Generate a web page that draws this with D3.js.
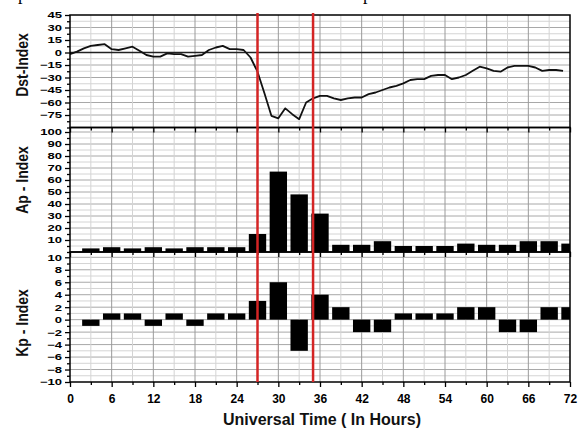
<!DOCTYPE html>
<html>
<head>
<meta charset="utf-8">
<script src="https://cdn.jsdelivr.net/npm/d3@7"></script>
<style>
  body { margin: 0; background: #fff; }
  svg { display: block; font-family: "Liberation Sans", Arial, sans-serif; }
</style>
</head>
<body>
<div id="wrapper"></div>
<script>
// hourly Dst, hour 0 .. 71
const dstValues = [-2, 1, 5, 8, 9, 10, 4, 3, 5, 7, 2, -3, -5, -5, -1, -2, -2, -5, -4, -3,
  3, 6, 8, 4, 4, 3, -6, -23, -49, -76, -79, -67, -74, -80, -60, -55, -52, -52, -55, -57,
  -55, -54, -54, -50, -48, -45, -42, -40, -37, -33, -32, -32, -28, -27, -27, -32, -30, -27,
  -22, -17, -19, -22, -23, -18, -16, -16, -16, -18, -22, -21, -21, -22];

// 3-hourly Ap and Kp
const barHours = [3, 6, 9, 12, 15, 18, 21, 24, 27, 30, 33, 36, 39, 42, 45, 48, 51, 54, 57, 60, 63, 66, 69, 72];
const apValues = [3, 4, 3, 4, 3, 4, 4, 4, 15, 67, 48, 32, 6, 6, 9, 5, 5, 5, 7, 6, 6, 9, 9, 7];
const kpValues = [-1, 1, 1, -1, 1, -1, 1, 1, 3, 6, -5, 4, 2, -2, -2, 1, 1, 1, 2, 2, -2, -2, 2, 2];

const markerHours = [27, 35];

const xTicks = [0, 6, 12, 18, 24, 30, 36, 42, 48, 54, 60, 66, 72];
const dstTicks = [45, 30, 15, 0, -15, -30, -45, -60, -75];
const apTicks = [10, 20, 30, 40, 50, 60, 70, 80, 90, 100];
const kpTicks = [10, 8, 6, 4, 2, 0, -2, -4, -6, -8, -10];

const width = 584, height = 429;
const left = 70, right = 570;

const svg = d3.select("#wrapper").append("svg")
  .attr("width", width)
  .attr("height", height);

const xScale = d3.scaleLinear().domain([0, 72]).range([left, right]);

const panels = [
  { title: "Dst-Index", top: 15, bottom: 127.5, domain: [-90, 45], ticks: dstTicks, minor: 7.5, titleY: 65 },
  { title: "Ap - Index", top: 127.5, bottom: 252, domain: [0, 103.75], ticks: apTicks, minor: 5, titleY: 180 },
  { title: "Kp - Index", top: 252, bottom: 382, domain: [-10, 10.85], ticks: kpTicks, minor: 1, titleY: 323 },
];
panels.forEach(p => {
  p.y = d3.scaleLinear().domain(p.domain).range([p.bottom, p.top]);
});

svg.append("defs").append("clipPath").attr("id", "plotclip")
  .append("rect").attr("x", left).attr("y", 15).attr("width", right - left).attr("height", 367);

// grid
const grid = svg.append("g");
const vMinor = d3.range(3, 72, 6);
const vMajor = xTicks.slice(1, -1);
panels.forEach(p => {
  const hMinor = d3.range(p.domain[0], p.domain[1], p.minor).filter(v => !p.ticks.includes(v) && v > p.domain[0]);
  const hMajor = p.ticks.filter(v => v > p.domain[0] && v < p.domain[1]);
  grid.selectAll(null).data(hMinor).join("line")
    .attr("x1", left).attr("x2", right)
    .attr("y1", d => p.y(d)).attr("y2", d => p.y(d))
    .attr("stroke", "#d4d4d4").attr("stroke-width", 1);
  grid.selectAll(null).data(hMajor).join("line")
    .attr("x1", left).attr("x2", right)
    .attr("y1", d => p.y(d)).attr("y2", d => p.y(d))
    .attr("stroke", "#a8a8a8").attr("stroke-width", 1);
  grid.selectAll(null).data(vMinor).join("line")
    .attr("x1", d => xScale(d)).attr("x2", d => xScale(d))
    .attr("y1", p.top).attr("y2", p.bottom)
    .attr("stroke", "#d4d4d4").attr("stroke-width", 1);
  grid.selectAll(null).data(vMajor).join("line")
    .attr("x1", d => xScale(d)).attr("x2", d => xScale(d))
    .attr("y1", p.top).attr("y2", p.bottom)
    .attr("stroke", "#9a9a9a").attr("stroke-width", 1);
});

const [dst, ap, kp] = panels;

// zero lines
svg.append("line")
  .attr("x1", left).attr("x2", right)
  .attr("y1", dst.y(0)).attr("y2", dst.y(0))
  .attr("stroke", "#222").attr("stroke-width", 1.3);

// bars
const barW = 2.5;
const bars = svg.append("g").attr("clip-path", "url(#plotclip)");
bars.selectAll(".ap").data(apValues).join("rect")
  .attr("class", "ap")
  .attr("x", (d, i) => xScale(barHours[i] - barW / 2))
  .attr("width", (d, i) => xScale(barHours[i] + barW / 2) - xScale(barHours[i] - barW / 2))
  .attr("y", d => ap.y(d))
  .attr("height", d => ap.y(0) - ap.y(d))
  .attr("fill", "#000");
bars.selectAll(".kp").data(kpValues).join("rect")
  .attr("class", "kp")
  .attr("x", (d, i) => xScale(barHours[i] - barW / 2))
  .attr("width", (d, i) => xScale(barHours[i] + barW / 2) - xScale(barHours[i] - barW / 2))
  .attr("y", d => kp.y(Math.max(d, 0)))
  .attr("height", d => Math.abs(kp.y(d) - kp.y(0)))
  .attr("fill", "#000");

// dst line
const lineGenerator = d3.line()
  .x((d, i) => xScale(i))
  .y(d => dst.y(d));
svg.append("path")
  .datum(dstValues)
  .attr("d", lineGenerator)
  .attr("fill", "none")
  .attr("stroke", "#111")
  .attr("stroke-width", 1.8)
  .attr("stroke-linejoin", "round");

// borders and axes
const S = 1.45;
panels.forEach((p, idx) => {
  svg.append("rect")
    .attr("x", left).attr("y", p.top)
    .attr("width", right - left).attr("height", p.bottom - p.top)
    .attr("fill", "none").attr("stroke", "#000").attr("stroke-width", 1.5);

  const minorVals = d3.range(p.domain[0], p.domain[1] + 0.001, p.minor).filter(v => !p.ticks.includes(v));
  svg.append("g").attr("transform", `translate(${left},0)`)
    .call(d3.axisLeft(p.y).tickValues(minorVals).tickSize(3).tickFormat(""))
    .call(g => g.select(".domain").remove())
    .selectAll("line").attr("stroke-width", 1.3);

  const yAxis = svg.append("g").attr("transform", `translate(${left},0)`)
    .call(d3.axisLeft(p.y).tickValues(p.ticks).tickSize(5).tickPadding(3));
  yAxis.select(".domain").remove();
  yAxis.selectAll("line").attr("stroke-width", 1.3);
  yAxis.selectAll("text")
    .attr("x", -8 / S)
    .attr("transform", `scale(${S},1)`)
    .attr("font-size", 9)
    .attr("font-weight", "bold")
    .attr("fill", "#000")
    .attr("font-family", "'Liberation Sans', Arial, sans-serif");

  const last = idx === panels.length - 1;
  svg.append("g").attr("transform", `translate(0,${p.bottom})`)
    .call(d3.axisBottom(xScale).tickValues(vMinor).tickSize(3).tickFormat(""))
    .call(g => g.select(".domain").remove())
    .selectAll("line").attr("stroke-width", 1.3);
  const xAxis = svg.append("g").attr("transform", `translate(0,${p.bottom})`)
    .call(d3.axisBottom(xScale).tickValues(xTicks).tickSize(5).tickPadding(7)
      .tickFormat(last ? d3.format("d") : ""));
  xAxis.select(".domain").remove();
  xAxis.selectAll("line").attr("stroke-width", 1.3);
  xAxis.selectAll("text")
    .attr("font-size", 12)
    .attr("font-weight", "bold")
    .attr("fill", "#000")
    .attr("font-family", "'Liberation Sans', Arial, sans-serif");

  svg.append("text")
    .attr("transform", `translate(28,${p.titleY}) scale(1.15,1) rotate(-90)`)
    .attr("text-anchor", "middle")
    .attr("font-size", 14)
    .attr("font-weight", "bold")
    .attr("fill", "#111")
    .text(p.title);
});

// event markers
svg.selectAll(".marker").data(markerHours).join("line")
  .attr("class", "marker")
  .attr("x1", d => xScale(d)).attr("x2", d => xScale(d))
  .attr("y1", 13).attr("y2", 382)
  .attr("stroke", "#d42525").attr("stroke-width", 2.5);

svg.append("text")
  .attr("x", 322).attr("y", 425)
  .attr("text-anchor", "middle")
  .attr("font-size", 16)
  .attr("font-weight", "bold")
  .attr("fill", "#111")
  .text("Universal Time ( In Hours)");

// clipped caption fragments at the very top
svg.selectAll(".frag").data([18, 363]).join("text")
  .attr("class", "frag")
  .attr("x", d => d).attr("y", 0)
  .attr("font-family", "'Liberation Serif', 'Times New Roman', serif")
  .attr("font-size", 18)
  .attr("fill", "#000")
  .text("p");
</script>
</body>
</html>
